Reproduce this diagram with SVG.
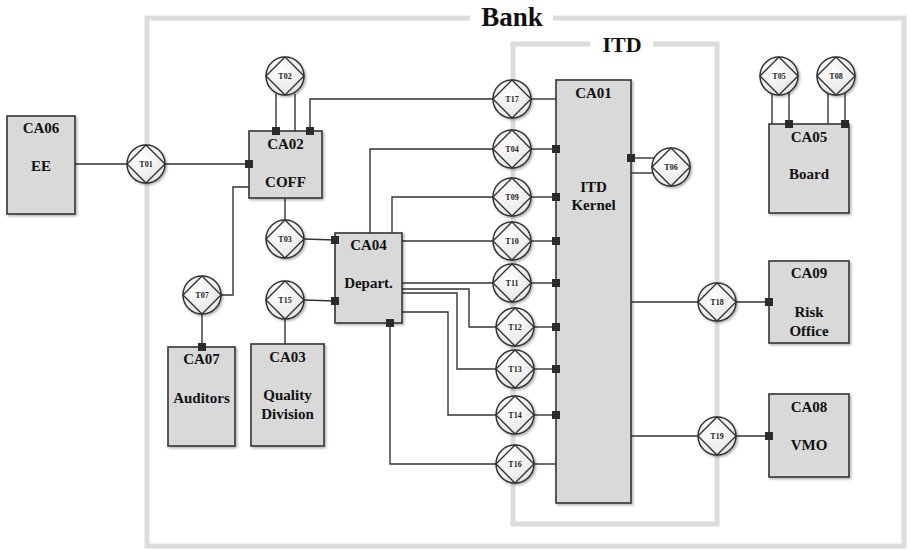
<svg xmlns="http://www.w3.org/2000/svg" xmlns:xlink="http://www.w3.org/1999/xlink" width="911" height="550" viewBox="0 0 911 550">
<defs>
<style>
.frame{fill:none;stroke:#dcdcdc;stroke-width:5}
.ftitle{font-family:"Liberation Serif",serif;font-weight:bold;fill:#111;text-anchor:middle}
.box{fill:#d9d9da;stroke:#333;stroke-width:1.6;filter:url(#sh)}
.lbl{font-family:"Liberation Serif",serif;font-weight:bold;font-size:15px;fill:#111;text-anchor:middle}
.tl{font-family:"Liberation Serif",serif;font-weight:bold;font-size:8px;fill:#222;text-anchor:middle}
.con{fill:none;stroke:#333;stroke-width:1.4}
.port{fill:#2b2b2b}
</style>
<filter id="sh" x="-20%" y="-20%" width="150%" height="150%">
<feDropShadow dx="1.5" dy="1.5" stdDeviation="1.2" flood-color="#000" flood-opacity="0.3"/>
</filter>
<radialGradient id="tg" cx="40%" cy="35%" r="70%">
<stop offset="0" stop-color="#ffffff"/>
<stop offset="1" stop-color="#e4e4e4"/>
</radialGradient>
<g id="tr">
<circle cx="0" cy="0" r="19" fill="url(#tg)" stroke="#333" stroke-width="1.5" filter="url(#sh)"/>
<path d="M0,-19 L19,0 L0,19 L-19,0 Z" fill="none" stroke="#333" stroke-width="1.4"/>
</g>
</defs>

<g id="frames">
<path class="frame" d="M470,18 H147 V546 H904 V18 H553"/>
<text class="ftitle" x="512" y="26" font-size="27">Bank</text>
<path class="frame" d="M590,44 H513 V524 H717 V44 H653"/>
<text class="ftitle" x="622" y="52" font-size="22">ITD</text>
</g>

<g id="connectors">
<polyline class="con" points="75,164 127,164"/>
<polyline class="con" points="165,164 249,164"/>
<polyline class="con" points="276,94 276,131"/>
<polyline class="con" points="295,94 295,131"/>
<polyline class="con" points="310,131 310,99 493,99"/>
<polyline class="con" points="285,198 285,220"/>
<polyline class="con" points="304,239 335,240"/>
<polyline class="con" points="249,187 233,187 233,295 221,295"/>
<polyline class="con" points="202,314 202,347"/>
<polyline class="con" points="304,300 335,301"/>
<polyline class="con" points="285,319 285,344"/>
<polyline class="con" points="370,233 370,149 493,149"/>
<polyline class="con" points="392,233 392,197 493,197"/>
<polyline class="con" points="402,241 493,241"/>
<polyline class="con" points="402,283 493,283"/>
<polyline class="con" points="402,289 469,289 469,327 496,327"/>
<polyline class="con" points="402,293 457,293 457,369 496,369"/>
<polyline class="con" points="402,312 448,312 448,415 496,415"/>
<polyline class="con" points="390,323 390,464 496,464"/>
<polyline class="con" points="531,99 556,99"/>
<polyline class="con" points="531,149 556,149"/>
<polyline class="con" points="531,197 556,197"/>
<polyline class="con" points="531,241 556,241"/>
<polyline class="con" points="531,283 556,283"/>
<polyline class="con" points="534,327 556,327"/>
<polyline class="con" points="534,369 556,369"/>
<polyline class="con" points="534,415 556,415"/>
<polyline class="con" points="534,464 556,464"/>
<polyline class="con" points="631,158 654,158"/>
<polyline class="con" points="631,173 653,173"/>
<polyline class="con" points="631,302 698,302"/>
<polyline class="con" points="736,302 769,302"/>
<polyline class="con" points="631,436 698,436"/>
<polyline class="con" points="736,436 769,436"/>
<polyline class="con" points="772,93 772,124"/>
<polyline class="con" points="789,92 789,124"/>
<polyline class="con" points="828,93 828,124"/>
<polyline class="con" points="845,92 845,124"/>
</g>

<g id="CA06"><rect class="box" x="7" y="116" width="68" height="98"/><text class="lbl" x="41" y="133">CA06</text><text class="lbl" x="41" y="171">EE</text></g>
<g id="CA02"><rect class="box" x="249" y="131" width="73" height="67"/><text class="lbl" x="285.5" y="149">CA02</text><text class="lbl" x="285.5" y="187">COFF</text></g>
<g id="CA04"><rect class="box" x="335" y="233" width="67" height="90"/><text class="lbl" x="368.5" y="250">CA04</text><text class="lbl" x="368.5" y="288">Depart.</text></g>
<g id="CA01"><rect class="box" x="556" y="80" width="75" height="423"/><text class="lbl" x="593.5" y="98">CA01</text><text class="lbl" x="593.5" y="192">ITD</text><text class="lbl" x="593.5" y="210">Kernel</text></g>
<g id="CA05"><rect class="box" x="769" y="124" width="80" height="89"/><text class="lbl" x="809" y="142">CA05</text><text class="lbl" x="809" y="179">Board</text></g>
<g id="CA09"><rect class="box" x="769" y="261" width="80" height="82"/><text class="lbl" x="809" y="278">CA09</text><text class="lbl" x="809" y="317">Risk</text><text class="lbl" x="809" y="336">Office</text></g>
<g id="CA08"><rect class="box" x="769" y="394" width="80" height="83"/><text class="lbl" x="809" y="412">CA08</text><text class="lbl" x="809" y="450">VMO</text></g>
<g id="CA07"><rect class="box" x="168" y="347" width="67" height="99"/><text class="lbl" x="201.5" y="364">CA07</text><text class="lbl" x="201.5" y="403">Auditors</text></g>
<g id="CA03"><rect class="box" x="251" y="344" width="73" height="102"/><text class="lbl" x="287.5" y="362">CA03</text><text class="lbl" x="287.5" y="400">Quality</text><text class="lbl" x="287.5" y="419">Division</text></g>

<g id="ports">
<rect class="port" x="245" y="160" width="8" height="8"/>
<rect class="port" x="272" y="127" width="8" height="8"/>
<rect class="port" x="306" y="127" width="8" height="8"/>
<rect class="port" x="331" y="236" width="8" height="8"/>
<rect class="port" x="331" y="297" width="8" height="8"/>
<rect class="port" x="198" y="343" width="8" height="8"/>
<rect class="port" x="386" y="319" width="8" height="8"/>
<rect class="port" x="552" y="145" width="8" height="8"/>
<rect class="port" x="552" y="193" width="8" height="8"/>
<rect class="port" x="552" y="237" width="8" height="8"/>
<rect class="port" x="552" y="279" width="8" height="8"/>
<rect class="port" x="552" y="323" width="8" height="8"/>
<rect class="port" x="552" y="365" width="8" height="8"/>
<rect class="port" x="552" y="411" width="8" height="8"/>
<rect class="port" x="627" y="154" width="8" height="8"/>
<rect class="port" x="765" y="298" width="8" height="8"/>
<rect class="port" x="765" y="432" width="8" height="8"/>
<rect class="port" x="785" y="120" width="8" height="8"/>
<rect class="port" x="841" y="120" width="8" height="8"/>
</g>

<g id="T01"><use xlink:href="#tr" x="146" y="164"/><text class="tl" x="146" y="167">T01</text></g>
<g id="T02"><use xlink:href="#tr" x="285" y="76"/><text class="tl" x="285" y="79">T02</text></g>
<g id="T03"><use xlink:href="#tr" x="285" y="239"/><text class="tl" x="285" y="242">T03</text></g>
<g id="T07"><use xlink:href="#tr" x="202" y="295"/><text class="tl" x="202" y="298">T07</text></g>
<g id="T15"><use xlink:href="#tr" x="285" y="300"/><text class="tl" x="285" y="303">T15</text></g>
<g id="T17"><use xlink:href="#tr" x="512" y="99"/><text class="tl" x="512" y="102">T17</text></g>
<g id="T04"><use xlink:href="#tr" x="512" y="149"/><text class="tl" x="512" y="152">T04</text></g>
<g id="T09"><use xlink:href="#tr" x="512" y="197"/><text class="tl" x="512" y="200">T09</text></g>
<g id="T10"><use xlink:href="#tr" x="512" y="241"/><text class="tl" x="512" y="244">T10</text></g>
<g id="T11"><use xlink:href="#tr" x="512" y="283"/><text class="tl" x="512" y="286">T11</text></g>
<g id="T12"><use xlink:href="#tr" x="515" y="327"/><text class="tl" x="515" y="330">T12</text></g>
<g id="T13"><use xlink:href="#tr" x="515" y="369"/><text class="tl" x="515" y="372">T13</text></g>
<g id="T14"><use xlink:href="#tr" x="515" y="415"/><text class="tl" x="515" y="418">T14</text></g>
<g id="T16"><use xlink:href="#tr" x="515" y="464"/><text class="tl" x="515" y="467">T16</text></g>
<g id="T06"><use xlink:href="#tr" x="671" y="167"/><text class="tl" x="671" y="170">T06</text></g>
<g id="T05"><use xlink:href="#tr" x="779" y="76"/><text class="tl" x="779" y="79">T05</text></g>
<g id="T08"><use xlink:href="#tr" x="836" y="76"/><text class="tl" x="836" y="79">T08</text></g>
<g id="T18"><use xlink:href="#tr" x="717" y="302"/><text class="tl" x="717" y="305">T18</text></g>
<g id="T19"><use xlink:href="#tr" x="717" y="436"/><text class="tl" x="717" y="439">T19</text></g>
</svg>
